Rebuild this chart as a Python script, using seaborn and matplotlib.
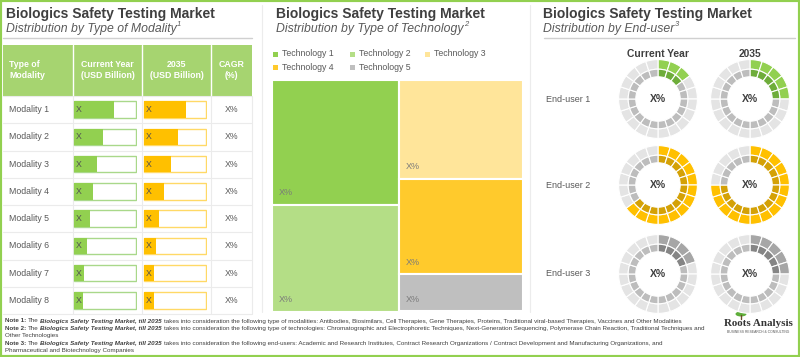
import matplotlib
matplotlib.use("Agg")
import matplotlib.pyplot as plt
from matplotlib.patches import Rectangle, Ellipse
import seaborn as sns

# data
modalities = ["Modality 1", "Modality 2", "Modality 3", "Modality 4",
              "Modality 5", "Modality 6", "Modality 7", "Modality 8"]
current_share = [0.65, 0.47, 0.37, 0.31, 0.26, 0.21, 0.16, 0.15]
future_share = [0.67, 0.54, 0.43, 0.32, 0.25, 0.20, 0.17, 0.17]
cagr_labels = ["X%"] * 8

technologies = ["Technology 1", "Technology 2", "Technology 3", "Technology 4", "Technology 5"]
tech_share = [27.3, 23.3, 21.1, 20.3, 8.0]
tech_column = [0, 0, 1, 1, 1]
tech_colors = ["#92d050", "#b4de86", "#ffe59a", "#ffca2c", "#bfbfbf"]

end_users = ["End-user 1", "End-user 2", "End-user 3"]
filled_current = [3, 13, 4]
filled_2035 = [5, 15, 5]
n_segments = 20
ring_outer = ["#92d050", "#ffc000", "#a6a6a6"]
ring_inner = ["#6ead3a", "#d4a106", "#858585"]

sns.set_style("white")
plt.rcParams["font.family"] = ["Liberation Sans", "DejaVu Sans"]

W, H = 800, 357
fig = plt.figure(figsize=(8, 3.57), dpi=100)


def px_rect(x, y, w, h):
    return [x / W, 1 - (y + h) / H, w / W, h / H]


# background axes in pixel coordinates for layout text and lines
bg = fig.add_axes([0, 0, 1, 1])
bg.set_xlim(0, W)
bg.set_ylim(H, 0)
bg.axis("off")
renderer = fig.canvas.get_renderer()

DARK = "#3f3f3f"
MID = "#595959"


def runs(x, y, parts, size, color=DARK):
    # place text pieces with different styles one after another
    gap = 0.28 * size * 100 / 72
    for txt, style in parts:
        t = bg.text(x, y, txt, fontsize=size, color=color, ha="left", va="baseline", **style)
        x += t.get_window_extent(renderer=renderer).width + gap
    return x


def header(x, sub, sup):
    bg.text(x, 14, "Biologics Safety Testing Market", fontsize=10, fontweight="bold",
            color=DARK, va="center")
    t = bg.text(x, 29, sub, fontsize=8.8, style="italic", color=MID, va="center")
    ext = t.get_window_extent(renderer=renderer)
    bg.text(x + ext.width + 0.5, 25, sup, fontsize=5.5, style="italic", color=MID, va="center")


header(6, "Distribution by Type of Modality", "1")
header(276, "Distribution by Type of Technology", "2")
header(543, "Distribution by End-user", "3")
bg.plot([3, 252], [38, 38], color="#d0d0d0", lw=1)
bg.plot([544, 795], [38, 38], color="#d0d0d0", lw=1)
bg.plot([262, 262], [5, 312], color="#ececec", lw=0.8)
bg.plot([530, 530], [5, 312], color="#ececec", lw=0.8)

# ---------------- table ----------------
col_edges = [3, 73, 142, 211, 252]
row_top, row_h = 96, 27.25
bg.add_patch(Rectangle((3, 45), 249, 51, color="#a6d470", lw=0))
for xe in col_edges[1:-1]:
    bg.plot([xe, xe], [45, 96], color="white", lw=1)
for xe in col_edges[1:]:
    bg.plot([xe, xe], [96, row_top + 8 * row_h], color="#ebebeb", lw=0.8)
for i in range(9):
    yy = row_top + i * row_h
    bg.plot([3, 252], [yy, yy], color="#ebebeb", lw=0.8)

hdr = dict(fontsize=6.3, fontweight="bold", color="white", va="center", linespacing=1.3)
bg.text(9, 70, "Type of\nModality", ha="left", **hdr)
bg.text(107.5, 70, "Current Year\n(USD Billion)", ha="center", **hdr)
bg.text(176.5, 70, "2035\n(USD Billion)", ha="center", **hdr)
bg.text(231.5, 70, "CAGR\n(%)", ha="center", **hdr)

for i, (name, cg) in enumerate(zip(modalities, cagr_labels)):
    yc = row_top + (i + 0.5) * row_h
    bg.text(9, yc, name, fontsize=6.3, color=MID, va="center")
    bg.text(231.5, yc, cg, fontsize=6.3, color=MID, va="center", ha="center")

for x0, vals, fill, edge in [(73, current_share, "#92d050", "#a9d88a"),
                             (143, future_share, "#ffc000", "#ffd966")]:
    ax = fig.add_axes(px_rect(x0, row_top, 64, 8 * row_h))
    sns.barplot(x=[1.0] * len(modalities), y=modalities, orient="h", color="white",
                saturation=1, edgecolor=edge, linewidth=1, width=0.6, ax=ax)
    sns.barplot(x=vals, y=modalities, orient="h", color=fill, saturation=1,
                linewidth=0, width=0.6, ax=ax)
    for i in range(len(modalities)):
        ax.text(0.04, i, "X", fontsize=6.3, color="#505050", va="center")
    ax.set_xlim(-0.01, 1.01)
    ax.set_ylim(len(modalities) - 0.5, -0.5)
    ax.axis("off")

# ---------------- treemap ----------------
lx = [275, 352, 427]
for i, name in enumerate(technologies):
    xm = lx[i % 3]
    ym = 54 if i < 3 else 67
    bg.add_patch(Rectangle((xm - 2.5, ym - 2.5), 5, 5, color=tech_colors[i], lw=0))
    bg.text(xm + 7, ym, name, fontsize=6.3, color=MID, va="center")

tax = fig.add_axes(px_rect(272, 80, 251, 231.5))
left = 0.0
for c in [0, 1]:
    idx = [i for i in range(len(technologies)) if tech_column[i] == c]
    width = sum(tech_share[i] for i in idx)
    bottom = 0.0
    for i in idx:
        h = tech_share[i] / width
        tax.bar(left, h, width=width, bottom=bottom, align="edge",
                color=tech_colors[i], edgecolor="white", linewidth=1.5)
        tax.annotate("X%", xy=(left, bottom + h), xytext=(7, 12), textcoords="offset pixels",
                     fontsize=6.5, color="#7a7a7a", va="center")
        bottom += h
    left += width
tax.set_xlim(0, sum(tech_share))
tax.set_ylim(1, 0)
tax.axis("off")

# ---------------- donuts ----------------
col_x = [658, 750]
row_y = [99, 185, 274]
bg.text(col_x[0], 54, "Current Year", fontsize=7.4, fontweight="bold", color=DARK,
        ha="center", va="center")
bg.text(col_x[1], 54, "2035", fontsize=7.4, fontweight="bold", color=DARK,
        ha="center", va="center")

for r, user in enumerate(end_users):
    bg.text(546, row_y[r], user, fontsize=6.5, color=MID, va="center")
    for c, filled in enumerate([filled_current[r], filled_2035[r]]):
        ax = fig.add_axes(px_rect(col_x[c] - 40, row_y[r] - 40, 80, 80))
        outer = [ring_outer[r] if k < filled else "#e4e4e4" for k in range(n_segments)]
        inner = [ring_inner[r] if k < filled else "#bdbdbd" for k in range(n_segments)]
        ax.pie([1] * n_segments, colors=outer, startangle=90, counterclock=False, radius=0.985,
               wedgeprops=dict(width=0.24, edgecolor="white", linewidth=0.8))
        ax.pie([1] * n_segments, colors=inner, startangle=90, counterclock=False, radius=0.745,
               wedgeprops=dict(width=0.19, edgecolor="white", linewidth=0.8))
        ax.text(0, 0, "X%", fontsize=7.5, fontweight="bold", color=DARK, ha="center", va="center")
        ax.set_xlim(-1, 1)
        ax.set_ylim(-1, 1)
        ax.axis("off")

# ---------------- notes ----------------
bold = {"fontweight": "bold"}
bi = {"fontweight": "bold", "style": "italic"}
plain = {}
mkt = "Biologics Safety Testing Market, till 2035"
ns = 4.5
runs(5, 322.5, [("Note 1:", bold), ("The", plain), (mkt, bi),
                ("takes into consideration the following type of modalities: Antibodies, Biosimilars, "
                 "Cell Therapies, Gene Therapies, Proteins, Traditional viral-based Therapies, "
                 "Vaccines and Other Modalities", plain)], ns)
runs(5, 330, [("Note 2:", bold), ("The", plain), (mkt, bi),
              ("takes into consideration the following type of technologies: Chromatographic and "
               "Electrophoretic Techniques, Next-Generation Sequencing, Polymerase Chain Reaction, "
               "Traditional Techniques and", plain)], ns)
runs(5, 337.3, [("Other Technologies", plain)], ns)
runs(5, 344.7, [("Note 3:", bold), ("The", plain), (mkt, bi),
                ("takes into consideration the following end-users: Academic and Research Institutes, "
                 "Contract Research Organizations / Contract Development and Manufacturing "
                 "Organizations, and", plain)], ns)
runs(5, 352, [("Pharmaceutical and Biotechnology Companies", plain)], ns)

# logo
bg.add_patch(Ellipse((741, 314), 11, 5, color="#5fae3a", lw=0))
bg.plot([741, 741], [315, 319], color="#6b4f2a", lw=1)
bg.text(758, 324, "Roots Analysis", fontsize=7.9, fontweight="bold", color="#333333",
        family="Liberation Serif", ha="center", va="center")
bg.text(758, 332, "BUSINESS RESEARCH & CONSULTING", fontsize=2.4, color="#555555",
        ha="center", va="center")

fig.patches.append(Rectangle((0, 0), 1, 1, transform=fig.transFigure, fill=False,
                             edgecolor="#92d050", linewidth=3))

fig.savefig("out.png", dpi=100)
